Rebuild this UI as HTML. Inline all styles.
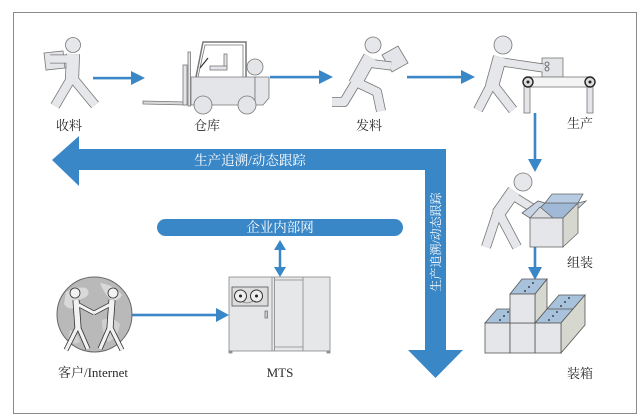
<!DOCTYPE html>
<html>
<head>
<meta charset="utf-8">
<style>
html,body{margin:0;padding:0;background:#fff;}
svg{display:block;}
text{font-family:"Liberation Serif","Noto Serif CJK SC","Noto Sans CJK SC",serif;}
</style>
</head>
<body>
<svg width="641" height="418" viewBox="0 0 641 418" xmlns="http://www.w3.org/2000/svg">
<rect x="0" y="0" width="641" height="418" fill="#fff"/>
<rect x="13.5" y="12.5" width="623" height="401" fill="none" stroke="#8a8a8a" stroke-width="1"/>

<!-- Big L arrow -->
<polygon points="52,160 79,136 79,149 446,149 446,350 463,350 435.5,378 408,350 425,350 425,170 79,170 79,186" fill="#3a87c7"/>
<text x="250" y="165" font-size="13.5" fill="#fff" text-anchor="middle">生产追溯/动态跟踪</text>
<text transform="translate(440,242) rotate(-90)" x="0" y="0" font-size="12" fill="#fff" text-anchor="middle">生产追溯/动态跟踪</text>

<!-- Intranet pill -->
<rect x="157" y="219" width="246" height="17" rx="8.5" fill="#3a87c7"/>
<text x="280" y="232" font-size="13.5" fill="#fff" text-anchor="middle">企业内部网</text>

<!-- double arrow -->
<line x1="280" y1="248" x2="280" y2="270" stroke="#3a87c7" stroke-width="2.5"/>
<polygon points="274,250 280,240 286,250" fill="#3a87c7"/>
<polygon points="274,267 280,277 286,267" fill="#3a87c7"/>

<!-- flow arrows -->
<g fill="#3a87c7" stroke="none">
<rect x="93" y="76.8" width="40" height="2.6"/>
<polygon points="131,71 145,78 131,85"/>
<rect x="270" y="75.8" width="50" height="2.6"/>
<polygon points="319,70 333,77 319,84"/>
<rect x="407" y="75.8" width="55" height="2.6"/>
<polygon points="461,70 475,77 461,84"/>
<rect x="533.7" y="113" width="2.6" height="48"/>
<polygon points="528,159 535,172 542,159"/>
<rect x="533.7" y="247" width="2.6" height="22"/>
<polygon points="528,267 535,280 542,267"/>
<rect x="132" y="313.7" width="85" height="2.6"/>
<polygon points="216,308 229,315 216,322"/>
</g>

<!-- 收料 figure -->
<g>
<polygon points="44,53 63,51 65,68 46,70" fill="#e4e5e8" stroke="#777" stroke-width="0.8"/>
<g stroke="#777" fill="none" stroke-linecap="butt" stroke-linejoin="round">
<polyline points="73,54 72,80" stroke-width="14"/>
<polyline points="72,77 55,106" stroke-width="10"/>
<polyline points="72,77 95,105" stroke-width="10"/>
<polyline points="74,59 50,59" stroke-width="9"/>
</g>
<g stroke="#e6e7ea" fill="none" stroke-linecap="butt" stroke-linejoin="round">
<polyline points="73,54 72,80" stroke-width="12.4"/>
<polyline points="72,77 55,106" stroke-width="8.4"/>
<polyline points="72,77 95,105" stroke-width="8.4"/>
<polyline points="74,59 50,59" stroke-width="7.4"/>
</g>
<circle cx="73" cy="45" r="7.5" fill="#e6e7ea" stroke="#777" stroke-width="0.8"/>
</g>

<!-- Forklift -->
<g stroke="#777" stroke-width="0.8" fill="#e4e5e8">
<polygon points="143,101 187,102 187,105 143,104" fill="#d8d8d8"/>
<rect x="183" y="65" width="4" height="40"/>
<rect x="188" y="52" width="2.5" height="54"/>
<polyline points="196,77 203,42 246,42 246,77" fill="none" stroke-width="1.5"/>
<polyline points="198,77 205,45 243,45 243,77" fill="none" stroke-width="0.8"/>
<line x1="200" y1="68" x2="208" y2="58" stroke="#333" stroke-width="1.2"/>
<rect x="224" y="54" width="3" height="14"/>
<rect x="210" y="66" width="17" height="4"/>
<polygon points="191,77 255,77 255,105 191,105"/>
<polygon points="255,77 269,77 269,98 263,105 255,105"/>
<circle cx="255" cy="67" r="8"/>
<circle cx="203" cy="105" r="9"/>
<circle cx="247" cy="105" r="9"/>
</g>

<!-- 发料 figure -->
<g>
<polygon points="382,55 398,46 408,63 392,72" fill="#e4e5e8" stroke="#777" stroke-width="0.8"/>
<g stroke="#777" fill="none" stroke-linejoin="round">
<polyline points="370,57 355,84" stroke-width="14"/>
<polyline points="356,82 344,102 332,102" stroke-width="10"/>
<polyline points="356,82 377,92 381,111" stroke-width="10"/>
<polyline points="367,63 391,66" stroke-width="9"/>
</g>
<g stroke="#e6e7ea" fill="none" stroke-linejoin="round">
<polyline points="370,57 355,84" stroke-width="12.4"/>
<polyline points="356,82 344,102 332,102" stroke-width="8.4"/>
<polyline points="356,82 377,92 381,111" stroke-width="8.4"/>
<polyline points="367,63 391,66" stroke-width="7.4"/>
</g>
<circle cx="373" cy="45" r="8" fill="#e6e7ea" stroke="#777" stroke-width="0.8"/>
</g>

<!-- 生产 figure & conveyor -->
<g>
<rect x="542" y="58" width="21" height="19" fill="#e4e5e8" stroke="#777" stroke-width="0.8"/>
<rect x="524" y="86" width="6" height="27" fill="#e4e5e8" stroke="#777" stroke-width="0.8"/>
<rect x="587" y="86" width="6" height="27" fill="#e4e5e8" stroke="#777" stroke-width="0.8"/>
<rect x="528" y="77" width="62" height="10" fill="#f4f4f4" stroke="#777" stroke-width="0.8"/>
<circle cx="528" cy="82" r="5" fill="#ddd" stroke="#222" stroke-width="1.4"/>
<circle cx="528" cy="82" r="1.5" fill="#222"/>
<circle cx="590" cy="82" r="5" fill="#ddd" stroke="#222" stroke-width="1.4"/>
<circle cx="590" cy="82" r="1.5" fill="#222"/>
<g stroke="#777" fill="none" stroke-linejoin="round">
<polyline points="500,57 492,86" stroke-width="14"/>
<polyline points="492,83 478,110" stroke-width="10"/>
<polyline points="492,83 513,110" stroke-width="10"/>
<polyline points="502,62 543,68" stroke-width="9"/>
</g>
<g stroke="#e6e7ea" fill="none" stroke-linejoin="round">
<polyline points="500,57 492,86" stroke-width="12.4"/>
<polyline points="492,83 478,110" stroke-width="8.4"/>
<polyline points="492,83 513,110" stroke-width="8.4"/>
<polyline points="502,62 543,68" stroke-width="7.4"/>
</g>
<circle cx="547" cy="64" r="2" fill="none" stroke="#555" stroke-width="0.8"/>
<circle cx="547" cy="69" r="2" fill="none" stroke="#555" stroke-width="0.8"/>
<circle cx="503" cy="45" r="9" fill="#e6e7ea" stroke="#777" stroke-width="0.8"/>
</g>

<!-- Assembly figure -->
<g>
<g stroke="#777" fill="none" stroke-linejoin="round">
<polyline points="514,191 498,214" stroke-width="14"/>
<polyline points="498,211 486,247" stroke-width="10"/>
<polyline points="498,211 517,247" stroke-width="10"/>
<polyline points="513,196 534,209" stroke-width="9"/>
</g>
<g stroke="#e6e7ea" fill="none" stroke-linejoin="round">
<polyline points="514,191 498,214" stroke-width="12.4"/>
<polyline points="498,211 486,247" stroke-width="8.4"/>
<polyline points="498,211 517,247" stroke-width="8.4"/>
<polyline points="513,196 534,209" stroke-width="7.4"/>
</g>
<circle cx="523" cy="182" r="9" fill="#e6e7ea" stroke="#777" stroke-width="0.8"/>
<g stroke="#666" stroke-width="0.8">
<polygon points="545,203 578,203 563,218 530,218" fill="#9fb9d6"/>
<polygon points="545,203 552,194 583,194 578,203" fill="#b7cbe2"/>
<polygon points="578,203 586,201 571,215 563,218" fill="#c6d4e4"/>
<polygon points="530,218 522,213 538,201 545,203" fill="#c6d4e4"/>
<polygon points="530,218 540,207 553,218" fill="#d9dde2"/>
<rect x="530" y="218" width="33" height="29" fill="#e4e6ea"/>
<polygon points="563,218 578,203 578,233 563,247" fill="#d6d7cf"/>
</g>
</g>

<!-- Boxes stack -->
<g stroke="#555" stroke-width="0.8">
<polygon points="535,323 561,323 585,295 559,295" fill="#a9c2dc"/>
<line x1="547" y1="309" x2="573" y2="309"/>
<polygon points="561,323 585,295 585,325 561,353" fill="#d6d7cf"/>
<rect x="535" y="323" width="26" height="30" fill="#e4e6ea"/>
<polygon points="485,323 510,323 522,309 497,309" fill="#a9c2dc"/>
<rect x="485" y="323" width="25" height="30" fill="#e4e6ea"/>
<rect x="510" y="323" width="25" height="30" fill="#e4e6ea"/>
<polygon points="535,294 547,279 547,309 535,323" fill="#d6d7cf"/>
<polygon points="510,294 535,294 547,279 522,279" fill="#a9c2dc"/>
<rect x="510" y="294" width="25" height="29" fill="#e4e6ea"/>
</g>
<g fill="#222">
<circle cx="525" cy="291" r="0.9"/><circle cx="529" cy="287" r="0.9"/><circle cx="533" cy="283" r="0.9"/>
<circle cx="500" cy="320" r="0.9"/><circle cx="504" cy="316" r="0.9"/><circle cx="508" cy="312" r="0.9"/>
<circle cx="549" cy="320" r="0.9"/><circle cx="553" cy="316" r="0.9"/><circle cx="557" cy="312" r="0.9"/>
<circle cx="561" cy="306" r="0.9"/><circle cx="565" cy="302" r="0.9"/><circle cx="569" cy="298" r="0.9"/>
</g>

<!-- Globe -->
<g>
<circle cx="94.5" cy="314.5" r="37.5" fill="#b9b9b9" stroke="#666" stroke-width="1"/>
<path d="M66,292 q10,-6 20,-4 q6,6 -2,10 q-8,2 -10,10 q-6,2 -10,-4 z" fill="#d9d9d9"/>
<path d="M100,283 q14,2 22,12 q-4,8 -12,4 q-6,-6 -10,-16 z" fill="#d9d9d9"/>
<path d="M102,320 q10,-4 18,4 q-2,14 -12,18 q-6,-8 -6,-22 z" fill="#d0d0d0"/>
<path d="M70,330 q8,2 10,12 q-6,4 -12,-2 z" fill="#d0d0d0"/>
<g stroke="#333" fill="none" stroke-linejoin="round">
<polyline points="76,300 78,328" stroke-width="7"/>
<polyline points="78,326 66,350" stroke-width="5"/>
<polyline points="78,326 88,349" stroke-width="5"/>
<polyline points="77,304 94,313" stroke-width="4.5"/>
<polyline points="112,300 110,328" stroke-width="7"/>
<polyline points="110,326 100,349" stroke-width="5"/>
<polyline points="110,326 122,350" stroke-width="5"/>
<polyline points="111,304 94,313" stroke-width="4.5"/>
</g>
<g stroke="#f2f2f2" fill="none" stroke-linejoin="round">
<polyline points="76,300 78,328" stroke-width="5.4"/>
<polyline points="78,326 66,350" stroke-width="3.4"/>
<polyline points="78,326 88,349" stroke-width="3.4"/>
<polyline points="77,304 94,313" stroke-width="3"/>
<polyline points="112,300 110,328" stroke-width="5.4"/>
<polyline points="110,326 100,349" stroke-width="3.4"/>
<polyline points="110,326 122,350" stroke-width="3.4"/>
<polyline points="111,304 94,313" stroke-width="3"/>
</g>
<circle cx="75" cy="293" r="5" fill="#f2f2f2" stroke="#333" stroke-width="0.8"/>
<circle cx="113" cy="293" r="5" fill="#f2f2f2" stroke="#333" stroke-width="0.8"/>
</g>

<!-- MTS cabinet -->
<g stroke="#888" stroke-width="0.8">
<rect x="229" y="277" width="101" height="74" fill="#e6e7e9"/>
<rect x="229" y="351" width="3" height="2" fill="#999"/>
<rect x="327" y="351" width="3" height="2" fill="#999"/>
<line x1="272" y1="277" x2="272" y2="351"/>
<line x1="274.5" y1="277" x2="274.5" y2="351"/>
<line x1="303" y1="277" x2="303" y2="351"/>
<line x1="274.5" y1="280" x2="303" y2="280"/>
<line x1="274.5" y1="347" x2="303" y2="347"/>
<rect x="232" y="287" width="36" height="19" fill="#dcdcdc" stroke="#555"/>
<circle cx="240.5" cy="296" r="6" fill="#eee" stroke="#333" stroke-width="1"/>
<circle cx="256.5" cy="296" r="6" fill="#eee" stroke="#333" stroke-width="1"/>
<rect x="265" y="311" width="2.5" height="7" fill="#ccc" stroke="#777"/>
</g>
<circle cx="240.5" cy="296" r="1.5" fill="#222"/>
<circle cx="256.5" cy="296" r="1.5" fill="#222"/>
<path d="M243,302 q4,2 8,0 q3,-2 6,0" fill="none" stroke="#555" stroke-width="0.6"/>

<!-- Labels -->
<g font-size="13" fill="#2a2a2a" text-anchor="middle">
<text x="69" y="130">收料</text>
<text x="207" y="130">仓库</text>
<text x="369" y="130">发料</text>
<text x="580" y="128">生产</text>
<text x="580" y="267">组装</text>
<text x="580" y="378">装箱</text>
<text x="93" y="377">客户/Internet</text>
<text x="280" y="377">MTS</text>
</g>
</svg>
</body>
</html>
